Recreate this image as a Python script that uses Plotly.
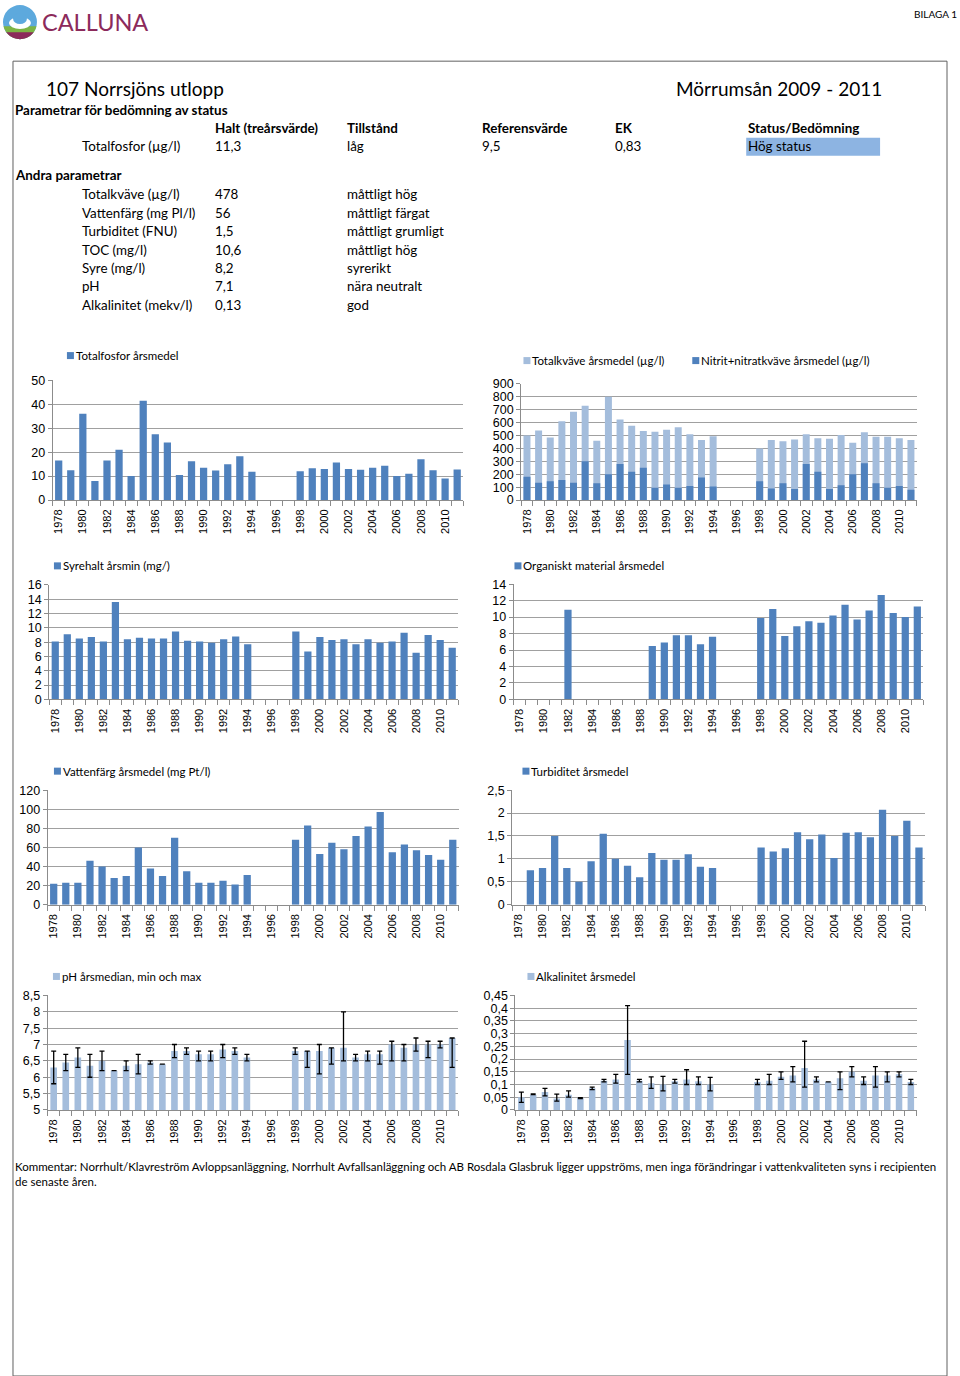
import math
import plotly.graph_objects as go

# ---------------- data ----------------
years = list(range(1978, 2012))
N = None

totalfosfor = [16.5, 12.5, 36, 8, 16.5, 21, 10, 41.5, 27.5, 24, 10.5, 16.2, 13.5, 12.3, 15, 18.3, 11.8,
               N, N, N,
               12, 13.3, 13, 15.7, 13, 12.7, 13.5, 14.3, 10, 11, 17, 12.5, 9, 12.8]
totalkvave = [500, 540, 485, 610, 685, 730, 460, 800, 625, 575, 535, 530, 545, 565, 510, 465, 495,
              N, N, N,
              400, 465, 455, 470, 510, 480, 475, 505, 445, 525, 490, 490, 480, 465]
nitratkvave = [180, 135, 145, 155, 135, 300, 130, 200, 280, 220, 250, 95, 120, 95, 110, 175, 105,
               N, N, N,
               145, 90, 130, 85, 280, 220, 85, 115, 200, 285, 130, 95, 110, 80]
syrehalt = [8.1, 9.1, 8.5, 8.7, 8.1, 13.6, 8.4, 8.6, 8.5, 8.5, 9.5, 8.2, 8.1, 7.9, 8.4, 8.8, 7.7,
            N, N, N,
            9.5, 6.7, 8.7, 8.3, 8.4, 7.7, 8.4, 7.9, 8.1, 9.3, 6.5, 9.0, 8.3, 7.2]
organiskt = [N, N, N, N, 10.9, N, N, N, N, N, N, 6.5, 6.9, 7.8, 7.8, 6.7, 7.6,
             N, N, N,
             9.9, 11.0, 7.7, 8.9, 9.5, 9.3, 10.2, 11.5, 9.7, 10.8, 12.7, 10.5, 10.0, 11.3]
vattenfarg = [22, 23, 23, 46, 40, 28, 30, 60, 38, 30, 70, 35, 23, 23, 25, 21, 31,
              N, N, N,
              68, 83, 53, 65, 58, 72, 82, 97, 55, 63, 57, 52, 47, 68]
turbiditet = [N, 0.75, 0.8, 1.5, 0.8, 0.5, 0.95, 1.55, 1.0, 0.85, 0.6, 1.13, 0.98, 0.98, 1.1, 0.83, 0.8,
              N, N, N,
              1.25, 1.16, 1.23, 1.58, 1.43, 1.53, 1.02, 1.57, 1.58, 1.47, 2.07, 1.5, 1.83, 1.25]
ph_median = [6.3, 6.45, 6.6, 6.35, 6.5, 6.2, 6.35, 6.4, 6.45, 6.4, 6.8, 6.8, 6.7, 6.7, 6.85, 6.8, 6.6,
             N, N, N,
             6.8, 6.8, 6.8, 6.9, 6.9, 6.6, 6.7, 6.7, 7.0, 6.9, 7.0, 7.0, 7.0, 7.2]
ph_min = [5.8, 6.2, 6.3, 6.0, 6.2, 6.2, 6.2, 6.1, 6.4, 6.4, 6.6, 6.7, 6.5, 6.5, 6.6, 6.7, 6.5,
          N, N, N,
          6.7, 6.3, 6.1, 6.4, 6.5, 6.5, 6.5, 6.4, 6.5, 6.5, 6.8, 6.6, 6.9, 6.3]
ph_max = [6.8, 6.7, 6.9, 6.7, 6.8, 6.2, 6.5, 6.7, 6.5, 6.4, 7.0, 6.9, 6.8, 6.8, 7.0, 6.9, 6.7,
          N, N, N,
          6.9, 6.8, 7.0, 6.9, 8.0, 6.7, 6.8, 6.8, 7.1, 7.0, 7.2, 7.1, 7.1, 7.2]
alk_mean = [0.05, 0.06, 0.07, 0.045, 0.06, 0.047, 0.085, 0.115, 0.12, 0.275, 0.115, 0.105, 0.1, 0.113, 0.12, 0.113, 0.1,
            N, N, N,
            0.11, 0.115, 0.13, 0.135, 0.165, 0.12, 0.11, 0.125, 0.15, 0.115, 0.135, 0.135, 0.14, 0.11]
alk_min = [0.03, 0.06, 0.055, 0.035, 0.05, 0.045, 0.08, 0.11, 0.105, 0.14, 0.11, 0.085, 0.075, 0.105, 0.1, 0.1, 0.075,
           N, N, N,
           0.1, 0.1, 0.12, 0.11, 0.09, 0.11, 0.11, 0.08, 0.13, 0.1, 0.09, 0.11, 0.13, 0.1]
alk_max = [0.07, 0.063, 0.085, 0.062, 0.075, 0.048, 0.09, 0.12, 0.14, 0.41, 0.12, 0.13, 0.132, 0.12, 0.158, 0.13, 0.128,
           N, N, N,
           0.12, 0.14, 0.15, 0.17, 0.27, 0.13, 0.11, 0.15, 0.17, 0.13, 0.17, 0.15, 0.15, 0.12]

tick_years = years[::2]
tick_labels = [str(y) for y in tick_years]

# header table text
title_left = "107 Norrsjöns utlopp"
title_right = "Mörrumsån 2009 - 2011"
status_cols = ["Halt (treårsvärde)", "Tillstånd", "Referensvärde", "EK", "Status/Bedömning"]
status_row = ["Totalfosfor (µg/l)", "11,3", "låg", "9,5", "0,83", "Hög status"]
other_params = ["Totalkväve (µg/l)", "Vattenfärg (mg Pl/l)", "Turbiditet (FNU)", "TOC (mg/l)",
                "Syre (mg/l)", "pH", "Alkalinitet (mekv/l)"]
other_values = ["478", "56", "1,5", "10,6", "8,2", "7,1", "0,13"]
other_states = ["måttligt hög", "måttligt färgat", "måttligt grumligt", "måttligt hög",
                "syrerikt", "nära neutralt", "god"]
comment_lines = ["Kommentar: Norrhult/Klavreström Avloppsanläggning, Norrhult Avfallsanläggning och AB Rosdala Glasbruk "
                 "ligger uppströms, men inga förändringar i vattenkvaliteten syns i recipienten",
                 "de senaste åren."]

# ---------------- helpers ----------------
W = 960
FIG_H = 1384
SY = 1376 / 1392          # observed vertical mapping of the capture
def fx(x):
    return x / W
def fy(y):
    page_y = y / SY - 8
    return 1 - page_y / FIG_H

DARK = "#4F81BD"
LIGHT = "#A4BDDC"
GRID = "#A0A0A0"
AXIS = "#8C8C8C"
CHART_FONT = "Arial, Liberation Sans, sans-serif"
TEXT_FONT = "Lato, sans-serif"

fig = go.Figure()
annotations = []
shapes = []

# panels: left, right, top, bottom (px), ymin, ymax, dtick
panels = [
    (51.7, 462.7, 380.7, 500.3, 0, 50, 10),
    (520.7, 916.7, 384.3, 500.3, 0, 900, 100),
    (48.3, 457.7, 585.0, 699.3, 0, 16, 2),
    (513.3, 923.3, 584.3, 699.3, 0, 14, 2),
    (46.7, 458.3, 790.0, 904.3, 0, 120, 20),
    (511.7, 925.0, 790.0, 904.3, 0, 2.5, 0.5),
    (46.7, 457.7, 995.0, 1109.3, 5, 8.5, 0.5),
    (515.0, 916.7, 995.0, 1109.3, 0, 0.45, 0.05),
]

def err(mid, lo, hi):
    plus, minus = [], []
    for m, a, b in zip(mid, lo, hi):
        if m is None:
            plus.append(None); minus.append(None)
        else:
            plus.append(round(b - m, 4)); minus.append(round(m - a, 4))
    return plus, minus

ph_plus, ph_minus = err(ph_median, ph_min, ph_max)
alk_plus, alk_minus = err(alk_mean, alk_min, alk_max)

def bar(i, y, color, name, width=0.6, err_plus=None, err_minus=None):
    kw = {}
    if err_plus is not None:
        kw["error_y"] = dict(type="data", symmetric=False, array=err_plus, arrayminus=err_minus,
                             color="black", thickness=1.3, width=2.5)
    fig.add_trace(go.Bar(x=years, y=y, name=name, marker=dict(color=color, line=dict(width=0)),
                         width=width, xaxis=f"x{i}", yaxis=f"y{i}", showlegend=False, **kw))

bar(1, totalfosfor, DARK, "Totalfosfor årsmedel")
bar(2, totalkvave, LIGHT, "Totalkväve årsmedel (µg/l)")
bar(2, nitratkvave, DARK, "Nitrit+nitratkväve årsmedel (µg/l)")
bar(3, syrehalt, DARK, "Syrehalt årsmin (mg/)")
bar(4, organiskt, DARK, "Organiskt material årsmedel")
bar(5, vattenfarg, DARK, "Vattenfärg årsmedel (mg Pt/l)")
bar(6, turbiditet, DARK, "Turbiditet årsmedel")
bar(7, ph_median, LIGHT, "pH årsmedian, min och max", 0.55, ph_plus, ph_minus)
bar(8, alk_mean, LIGHT, "Alkalinitet årsmedel", 0.55, alk_plus, alk_minus)

layout_axes = {}
for i, (l, r, t, b, y0, y1, dt) in enumerate(panels, start=1):
    layout_axes[f"xaxis{i}"] = dict(
        domain=[fx(l), fx(r)], anchor=f"y{i}", range=[1977.5, 2011.5],
        tickvals=tick_years, ticktext=tick_labels, tickangle=-90,
        ticks="outside", ticklen=4, tickcolor="rgba(0,0,0,0)",
        tickfont=dict(family=CHART_FONT, size=11, color="black"),
        showgrid=False, zeroline=False, showline=True, linecolor=AXIS, linewidth=1,
        minor=dict(tickvals=[1977.5 + k for k in range(35)], ticks="outside", ticklen=5,
                   tickcolor=AXIS, tickwidth=1, showgrid=False),
        fixedrange=True,
    )
    layout_axes[f"yaxis{i}"] = dict(
        domain=[fy(b), fy(t)], anchor=f"x{i}", range=[y0, y1], dtick=dt, tick0=y0,
        ticks="outside", ticklen=4, tickcolor=AXIS,
        tickfont=dict(family=CHART_FONT, size=12.5, color="black"),
        showgrid=True, gridcolor=GRID, gridwidth=1, zeroline=False,
        showline=True, linecolor=AXIS, linewidth=1, fixedrange=True,
    )

def txt(x, y, s, size=12, bold=False, anchor="left", color="black", family=TEXT_FONT):
    if bold:
        s = f"<b>{s}</b>"
    annotations.append(dict(x=fx(x), y=fy(y), xref="paper", yref="paper", text=s, showarrow=False,
                            xanchor=anchor, yanchor="middle", borderpad=0, borderwidth=0,
                            font=dict(family=family, size=size, color=color)))

# legends (drawn as small squares + text)
legend_items = [
    (66, 356, DARK, "Totalfosfor årsmedel"),
    (523, 361, LIGHT, "Totalkväve årsmedel (µg/l)"),
    (692, 361, DARK, "Nitrit+nitratkväve årsmedel (µg/l)"),
    (53, 566, DARK, "Syrehalt årsmin (mg/)"),
    (514, 566, DARK, "Organiskt material årsmedel"),
    (53, 771, DARK, "Vattenfärg årsmedel (mg Pt/l)"),
    (522, 771, DARK, "Turbiditet årsmedel"),
    (52, 976, LIGHT, "pH årsmedian, min och max"),
    (527, 976, LIGHT, "Alkalinitet årsmedel"),
]
for x, y, c, s in legend_items:
    shapes.append(dict(type="rect", xref="paper", yref="paper", x0=fx(x), x1=fx(x + 7),
                       y0=fy(y + 3.5), y1=fy(y - 3.5), fillcolor=c, line=dict(width=0)))
    txt(x + 9, y, s, size=11.5)

# header
txt(45, 89, title_left, size=19)
txt(882, 89, title_right, size=19, anchor="right")
txt(14, 111, "Parametrar för bedömning av status", size=13.4, bold=True)
col_x = [214, 346, 482, 615, 748]
for cx, s in zip(col_x, status_cols):
    txt(cx, 129, s, size=13.4, bold=True)
shapes.append(dict(type="rect", xref="paper", yref="paper", x0=fx(746), x1=fx(880),
                   y0=fy(156.5), y1=fy(138.5), fillcolor="#8DB4E2", line=dict(width=0), layer="below"))
row_x = [81] + col_x
for cx, s in zip(row_x, status_row):
    txt(cx, 147, s, size=13.4)
txt(14, 176, "Andra parametrar", size=13.4, bold=True)
for k, (p, v, s) in enumerate(zip(other_params, other_values, other_states)):
    yy = 195 + k * 18.4
    txt(81, yy, p, size=13.4)
    txt(214, yy, v, size=13.4)
    txt(346, yy, s, size=13.4)

# comment
txt(14, 1166, comment_lines[0], size=11.5)
txt(14, 1181, comment_lines[1], size=11.5)

# top: BILAGA 1 and logo
txt(957, 15, "BILAGA 1", size=10, anchor="right")
txt(41, 23, "CALLUNA", size=23.5, color="#8C2A5B")

# logo icon (circle segments)
cxp, cyp, rad = 19, 23, 17
def seg(y_cut, color):
    dy = y_cut - cyp
    a0 = math.asin(max(-1, min(1, dy / rad)))
    pts = []
    n = 30
    for k in range(n + 1):
        a = a0 + (math.pi - 2 * a0) * k / n
        pts.append((cxp + rad * math.cos(a), cyp + rad * math.sin(a)))
    path = "M " + " L ".join(f"{fx(px):.5f},{fy(py):.5f}" for px, py in pts) + " Z"
    shapes.append(dict(type="path", xref="paper", yref="paper", path=path, fillcolor=color,
                       line=dict(width=0)))

shapes.append(dict(type="circle", xref="paper", yref="paper", x0=fx(cxp - rad), x1=fx(cxp + rad),
                   y0=fy(cyp + rad), y1=fy(cyp - rad), fillcolor="#5DA9DD", line=dict(width=0)))
seg(27, "#7DB445")
seg(33, "#8C2A5B")
shapes.append(dict(type="circle", xref="paper", yref="paper", x0=fx(8), x1=fx(30),
                   y0=fy(30), y1=fy(18), fillcolor="white", line=dict(width=0)))
shapes.append(dict(type="circle", xref="paper", yref="paper", x0=fx(12), x1=fx(26),
                   y0=fy(25), y1=fy(14), fillcolor="#5DA9DD", line=dict(width=0)))

# page border
shapes.append(dict(type="rect", xref="paper", yref="paper", x0=fx(12), x1=fx(947),
                   y0=fy(1375), y1=fy(62), line=dict(color="#606060", width=1), fillcolor="rgba(0,0,0,0)"))

fig.update_layout(
    width=W, height=FIG_H, autosize=False,
    margin=dict(l=0, r=0, t=0, b=0, pad=0),
    paper_bgcolor="white", plot_bgcolor="white",
    barmode="overlay", separators=", ",
    showlegend=False,
    annotations=annotations, shapes=shapes,
    **layout_axes,
)

reset_js = (
    "var d=document.documentElement,b=document.body;"
    "d.style.margin='0';d.style.padding='0';d.style.overflow='hidden';"
    "b.style.margin='0';b.style.padding='0';b.style.overflow='hidden';"
    "window.scrollTo(0,0);"
)
fig.write_html("out.html", config={"displayModeBar": False}, post_script=reset_js)
